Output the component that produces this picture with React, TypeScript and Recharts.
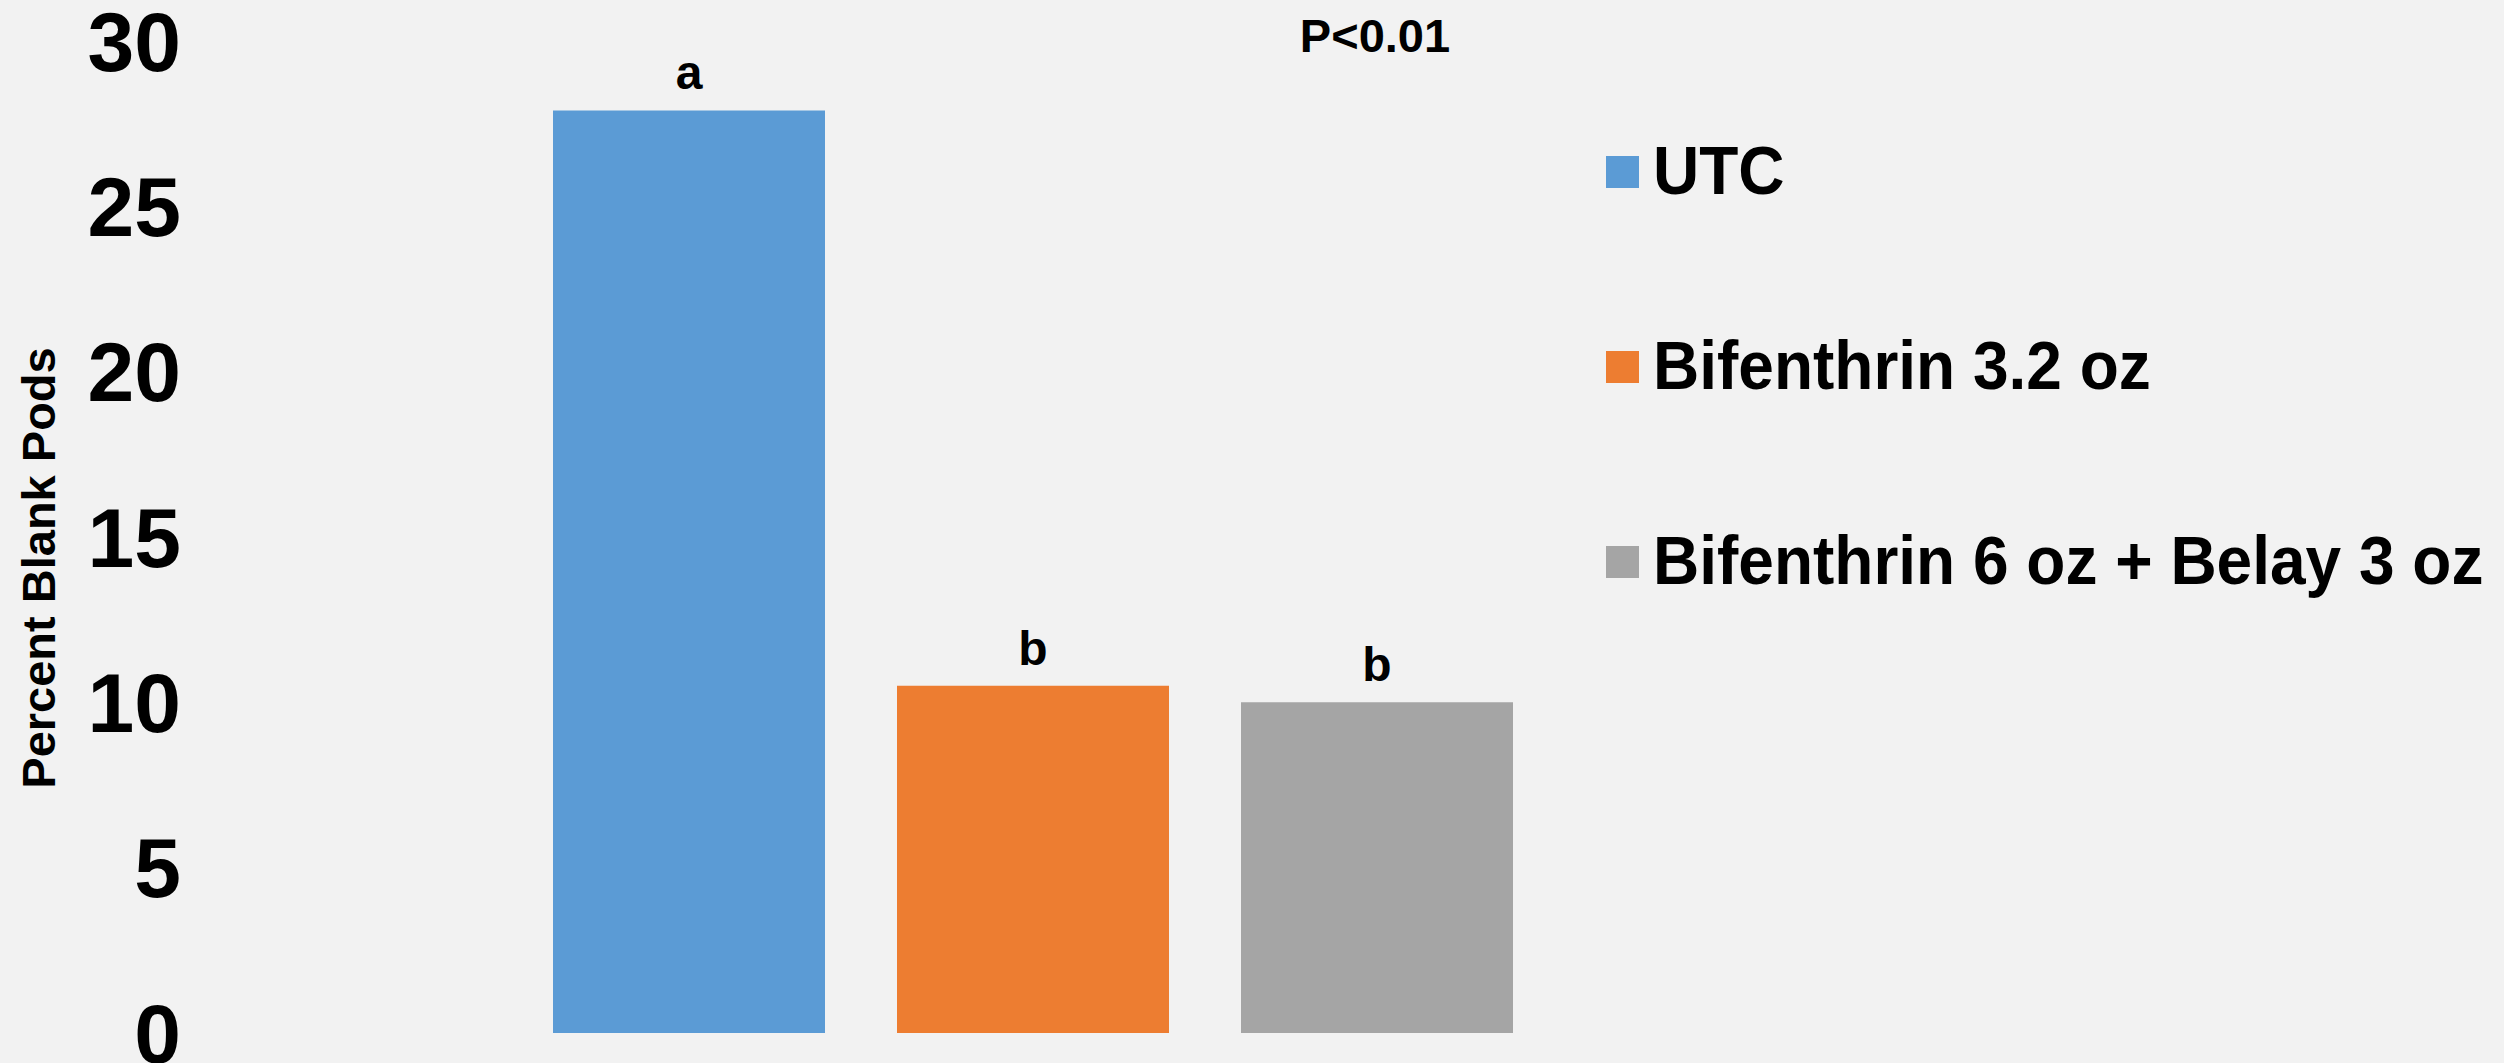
import React from 'react';
import { BarChart, Bar, XAxis, YAxis, Legend, LabelList, Customized } from 'recharts';

const seriesNames = ['UTC', 'Bifenthrin 3.2 oz', 'Bifenthrin 6 oz + Belay 3 oz'];
const seriesValues = [27.9, 10.5, 10.0];
const seriesLetters = ['a', 'b', 'b'];
const seriesColors = ['#5B9BD5', '#ED7D31', '#A5A5A5'];
const yTicks = [0, 5, 10, 15, 20, 25, 30];
const yTitle = 'Percent Blank Pods';
const pValueText = 'P<0.01';

const FONT = '"Liberation Sans", Arial, sans-serif';

const row: Record<string, any> = { group: '' };
seriesNames.forEach((_, i) => {
  row[`v${i}`] = seriesValues[i];
  row[`l${i}`] = seriesLetters[i];
});
const data = [row];

const LegendContent = (props: any) => {
  const payload = [...(props.payload || [])].sort(
    (a: any, b: any) => seriesNames.indexOf(a.value) - seriesNames.indexOf(b.value)
  );
  return (
    <div style={{ fontFamily: FONT }}>
      {payload.map((entry: any, i: number) => (
        <div key={i} style={{ height: 195, display: 'flex', alignItems: 'center' }}>
          <div style={{ width: 33, height: 32, background: entry.color, marginRight: 14, flex: 'none' }} />
          <span
            style={{
              fontSize: 64,
              fontWeight: 'bold',
              lineHeight: 1,
              color: '#000',
              whiteSpace: 'nowrap',
              display: 'inline-block',
              transform: 'translateY(-2px) scaleY(1.07)',
            }}
          >
            {entry.value}
          </span>
        </div>
      ))}
    </div>
  );
};

const YTitle = (p: any) => {
  const vb = p.viewBox || { x: 0, y: 41, width: 517, height: 992 };
  const cx = vb.x + 38;
  const cy = vb.y + vb.height / 2 + 31;
  return (
    <text
      x={cx}
      y={cy}
      transform={`rotate(-90 ${cx} ${cy})`}
      textAnchor="middle"
      dominantBaseline="central"
      fontFamily={FONT}
      fontWeight="bold"
      fontSize={47}
      fill="#000"
    >
      {yTitle}
    </text>
  );
};

const PText = () => (
  <text x={1375} y={52} textAnchor="middle" fontFamily={FONT} fontWeight="bold" fontSize={47} fill="#000">
    {pValueText}
  </text>
);

export default function App() {
  return (
    <div style={{ width: 2504, height: 1063, background: '#F2F2F2' }}>
      <style>{`body{margin:0;background:#F2F2F2;}`}</style>
      <BarChart
        width={2504}
        height={1063}
        data={data}
        margin={{ top: 41, right: 955, bottom: 30, left: 0 }}
        barSize={272}
        barGap={72}
      >
        <XAxis dataKey="group" hide />
        <YAxis
          domain={[0, 30]}
          ticks={yTicks}
          width={517}
          axisLine={false}
          tickLine={false}
          tickSize={0}
          tickMargin={336}
          interval={0}
          tick={{ fontFamily: FONT, fontWeight: 'bold', fontSize: 84, fill: '#000' }}
          label={{ content: YTitle }}
        />
        <Legend
          layout="horizontal"
          verticalAlign="middle"
          align="center"
          content={LegendContent}
          wrapperStyle={{ left: 1606, top: 74.5, width: 'auto', height: 'auto' }}
        />
        {seriesNames.map((name, i) => (
          <Bar key={name} dataKey={`v${i}`} name={name} fill={seriesColors[i]} isAnimationActive={false}>
            <LabelList
              dataKey={`l${i}`}
              position="top"
              offset={21}
              style={{ fontFamily: FONT, fontWeight: 'bold', fontSize: 48, fill: '#000' }}
            />
          </Bar>
        ))}
        <Customized component={PText} />
      </BarChart>
    </div>
  );
}
